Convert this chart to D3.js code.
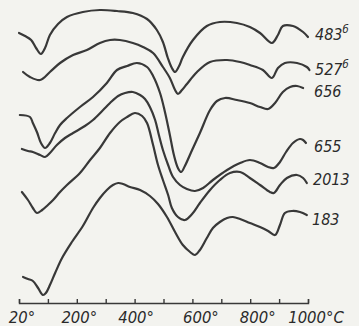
<!DOCTYPE html>
<html>
<head>
<meta charset="utf-8">
<script src="https://cdn.jsdelivr.net/npm/d3@7"></script>
<style>
  html, body { margin: 0; padding: 0; background: #f3f3ef; }
  svg { display: block; }
  .lbl { font-family: 'Liberation Sans Narrow', 'DejaVu Sans Condensed', 'Liberation Sans', sans-serif; font-style: italic; fill: #2a2a2a; }
</style>
</head>
<body>
<div id="chart"></div>
<script>
// DTA curves, [temperature °C, relative deflection]
const curve483 = [[0,267],[21,264],[42,260],[59,252],[76,246],[90,252],[107,265],[135,276],[166,283],[221,288],[280,290],[339,289],[394,287],[443,281],[477,270],[498,258],[515,242],[529,232],[540,228],[554,234],[567,243],[602,260],[650,274],[695,278],[754,277],[799,273],[834,267],[875,257],[896,265],[913,274],[948,274],[983,268],[1000,263]];
const curve527 = [[14,228],[38,223],[73,220],[107,228],[142,237],[187,245],[235,250],[280,257],[315,260],[349,260],[394,257],[429,253],[464,247],[498,233],[522,222],[540,210],[550,206],[564,210],[581,216],[616,228],[661,238],[720,240],[765,238],[799,235],[844,230],[875,222],[896,232],[920,237],[962,237],[996,233],[1005,230]];
const curve656 = [[3,185],[38,183],[48,177],[62,168],[76,157],[90,152],[107,157],[125,167],[142,175],[166,182],[211,193],[256,203],[304,217],[339,230],[374,234],[408,237],[443,233],[464,224],[488,207],[505,188],[522,165],[536,145],[550,132],[561,128],[574,134],[599,150],[626,167],[661,190],[685,199],[713,202],[754,200],[799,197],[834,193],[862,191],[886,197],[913,208],[938,213],[962,214],[983,212]];
const curve655 = [[10,151],[31,149],[48,148],[73,145],[90,143],[107,147],[131,155],[159,162],[187,167],[228,174],[256,180],[291,190],[315,197],[343,204],[367,207],[394,208],[419,205],[436,201],[453,193],[471,180],[484,165],[498,150],[516,135],[533,123],[557,115],[581,111],[609,109],[637,112],[671,120],[720,130],[765,137],[799,140],[834,137],[862,133],[882,132],[903,138],[924,148],[948,157],[972,161],[983,160],[993,157]];
const curve2013 = [[10,108],[31,100],[48,92],[62,87],[80,90],[100,95],[118,100],[142,108],[166,115],[211,127],[246,140],[280,152],[315,167],[349,178],[374,183],[401,187],[426,184],[443,177],[464,155],[481,135],[498,120],[516,105],[529,92],[550,83],[574,80],[599,86],[626,97],[661,110],[695,120],[730,127],[765,128],[799,122],[834,115],[868,108],[882,107],[903,115],[927,122],[962,125],[983,122],[996,117]];
const curve183 = [[14,23],[31,21],[48,19],[66,12],[83,5],[93,7],[107,15],[125,27],[149,42],[183,58],[221,74],[256,92],[280,102],[304,110],[325,115],[343,117],[360,116],[384,113],[419,110],[453,104],[481,96],[512,83],[540,68],[567,55],[592,48],[609,45],[626,50],[650,62],[671,72],[695,78],[720,82],[740,83],[765,81],[799,77],[834,73],[862,69],[886,65],[903,75],[920,87],[945,89],[972,88],[996,85]];

const series = [
  { name: '483', sup: 'б', values: curve483 },
  { name: '527', sup: 'б', values: curve527 },
  { name: '656', sup: '', values: curve656 },
  { name: '655', sup: '', values: curve655 },
  { name: '2013', sup: '', values: curve2013 },
  { name: '183', sup: '', values: curve183 },
];

const tickValues = [0, 100, 200, 300, 400, 500, 600, 700, 800, 900, 1000];
const tickLabels = { 0: '20°', 200: '200°', 400: '400°', 600: '600°', 800: '800°', 1000: '1000°C' };

const width = 359;
const height = 326;

// label nudges (px) - the scan is not perfectly even
const labelDy = [3, 5, 9, 9, 2, 10];
const labelX = [315, 315, 314, 314, 313, 312];
const tickDx = { 0: 2.5, 200: 2, 400: 1, 600: 8, 800: 7, 1000: 7.5 };

const x = d3.scaleLinear().domain([0, 1000]).range([19, 308]);
const y = d3.scaleLinear().domain([0, 300]).range([300, 0]);

const svg = d3.select('#chart')
  .append('svg')
  .attr('width', width)
  .attr('height', height);

svg.append('rect')
  .attr('width', width)
  .attr('height', height)
  .attr('fill', '#f3f3ef');

const line = d3.line()
  .x((d) => x(d[0]))
  .y((d) => y(d[1]))
  .curve(d3.curveCatmullRom.alpha(0.5));

svg.append('g')
  .selectAll('path')
  .data(series)
  .join('path')
  .attr('d', (d) => line(d.values))
  .attr('fill', 'none')
  .attr('stroke', '#383838')
  .attr('stroke-width', 2.2)
  .attr('stroke-linejoin', 'round')
  .attr('stroke-linecap', 'round');

// labels at the right end of each curve
const labels = svg.append('g')
  .selectAll('text')
  .data(series)
  .join('text')
  .attr('class', 'lbl')
  .attr('font-size', 16)
  .attr('x', (d, i) => labelX[i])
  .attr('y', (d, i) => y(d.values[d.values.length - 1][1]) + labelDy[i]);

labels.append('tspan').text((d) => d.name);
labels.append('tspan')
  .attr('dy', -7)
  .attr('font-size', 11)
  .text((d) => d.sup);

// temperature axis, ticks pointing up
const axis = d3.axisBottom(x)
  .tickValues(tickValues)
  .tickSizeInner(-4)
  .tickSizeOuter(-4)
  .tickPadding(8)
  .tickFormat((d) => tickLabels[d] || '');

const gx = svg.append('g')
  .attr('transform', 'translate(0,303)')
  .call(axis);

gx.select('.domain').attr('stroke', '#383838').attr('stroke-width', 1.4);
gx.selectAll('.tick line').attr('stroke', '#383838').attr('stroke-width', 1.4);
gx.selectAll('.tick text')
  .attr('class', 'lbl')
  .attr('font-size', 16.5)
  .attr('dx', (d) => tickDx[d] || 0);
</script>
</body>
</html>
